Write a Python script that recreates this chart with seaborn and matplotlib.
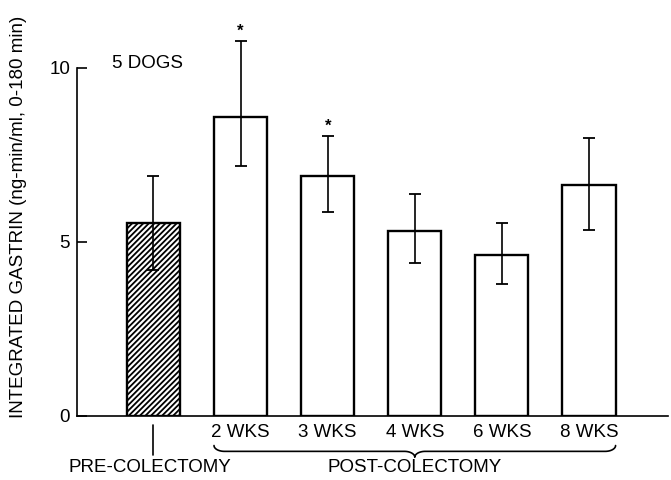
import numpy as np
import pandas as pd
import matplotlib
matplotlib.use("Agg")
import matplotlib.pyplot as plt
import matplotlib.transforms as mtransforms
import seaborn as sns

# Datos (gastrina integrada, ng-min/ml, 0-180 min)
grupos = ["PRE", "2 WKS", "3 WKS", "4 WKS", "6 WKS", "8 WKS"]
etiquetas = ["", "2 WKS", "3 WKS", "4 WKS", "6 WKS", "8 WKS"]
gastrina = [5.55, 8.6, 6.9, 5.3, 4.63, 6.64]
error_abajo = [4.18, 7.18, 5.86, 4.39, 3.78, 5.34]
error_arriba = [6.88, 10.78, 8.05, 6.38, 5.55, 8.0]
significativo = [False, True, True, False, False, False]

df = pd.DataFrame({"grupo": grupos, "gastrina": gastrina})

sns.set_style("ticks")
plt.rcParams["font.family"] = ["Liberation Sans", "DejaVu Sans"]
plt.rcParams["hatch.linewidth"] = 1.3
for clave in ["text.color", "axes.labelcolor", "xtick.color", "ytick.color",
              "axes.edgecolor"]:
    plt.rcParams[clave] = "black"

fs = 13.5

fig = plt.figure(figsize=(6.71, 4.8), dpi=100)
ax = fig.add_axes([77 / 671, 1 - 416 / 480, (668 - 77) / 671, 416 / 480])

ancho = 0.61
sns.barplot(data=df, x="grupo", y="gastrina", order=grupos, color="white",
            saturation=1, edgecolor="black", linewidth=1.7, width=ancho,
            errorbar=None, ax=ax)
ax.patches[0].set_hatch("//////")

# Barras de error asimetricas
media = np.array(gastrina)
yerr = [media - np.array(error_abajo), np.array(error_arriba) - media]
ax.errorbar(np.arange(len(grupos)), media, yerr=yerr, fmt="none",
            ecolor="black", elinewidth=1.2, capsize=4, capthick=1.3, zorder=5)

# Asteriscos de significancia
for i, sig in enumerate(significativo):
    if sig:
        ax.text(i, error_arriba[i] + 0.05, "*", ha="center", va="bottom",
                fontsize=12, fontweight="bold")

ax.set_xlim(-0.878, 5.907)
ax.set_ylim(0, 11.95)
sns.despine(ax=ax)
ax.spines["left"].set_bounds(0, 10)
ax.spines["left"].set_linewidth(1.2)
ax.spines["bottom"].set_linewidth(1.2)

ax.set_yticks([0, 5, 10])
ax.set_yticklabels(["0", "5", "10"], fontsize=fs)
ax.tick_params(axis="y", direction="in", length=7, width=1.2, pad=5)
ax.set_xticks(range(len(grupos)))
ax.set_xticklabels(etiquetas, fontsize=fs)
ax.tick_params(axis="x", length=0, pad=6)
ax.set_xlabel("")
ax.set_ylabel("INTEGRATED GASTRIN (ng-min/ml, 0-180 min)", fontsize=fs)
ax.yaxis.set_label_coords(-0.084, 0.478)

ax.text(-0.476, 10.14, "5 DOGS", ha="left", va="center", fontsize=fs)

# Anotaciones bajo el eje
trans = mtransforms.blended_transform_factory(ax.transData, ax.transAxes)
ax.plot([0, 0], [-0.022, -0.094], color="black", lw=1.2, transform=trans,
        clip_on=False)
ax.text(-0.04, -0.125, "PRE-COLECTOMY", ha="center", va="center",
        fontsize=fs, transform=trans)

# Llave para post-colectomia
x0 = 1 - ancho / 2
x1 = len(grupos) - 1 + ancho / 2
xm = (x0 + x1) / 2
r = 0.12
y_top, y_mid, y_tip = -0.071, -0.085, -0.099
t = np.linspace(0, np.pi / 2, 20)
izq_x = x0 + r * (1 - np.cos(t))
izq_y = y_top - (y_top - y_mid) * np.sin(t)
cen_x = xm - r + r * np.sin(t)
cen_y = y_mid - (y_mid - y_tip) * (1 - np.cos(t))
bx = np.concatenate([izq_x, cen_x, (2 * xm - cen_x)[::-1], (2 * xm - izq_x)[::-1]])
by = np.concatenate([izq_y, cen_y, cen_y[::-1], izq_y[::-1]])
ax.plot(bx, by, color="black", lw=1.2, transform=trans, clip_on=False)
ax.text(xm, -0.125, "POST-COLECTOMY", ha="center", va="center",
        fontsize=fs, transform=trans)

fig.savefig("out.png", dpi=100)
